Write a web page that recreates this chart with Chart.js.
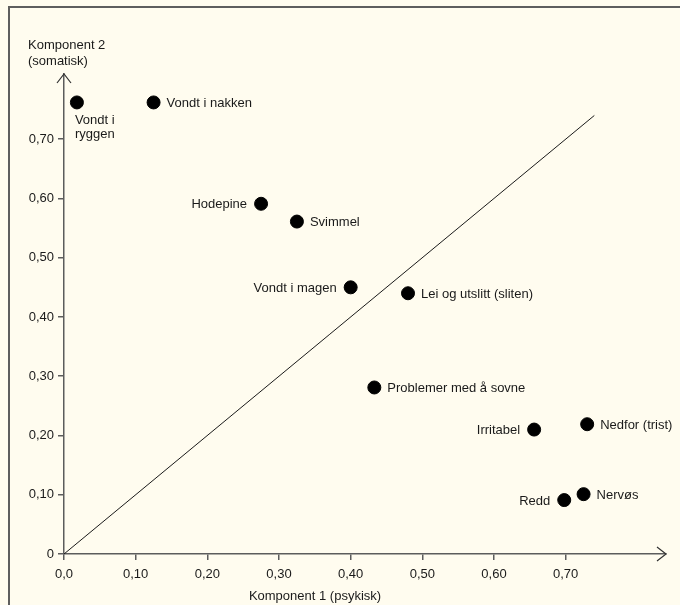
<!DOCTYPE html>
<html>
<head>
<meta charset="utf-8">
<script src="https://cdn.jsdelivr.net/npm/chart.js@4.4.1/dist/chart.umd.min.js"></script>
<style>
  html, body { margin: 0; padding: 0; background: #fffcef; }
  #wrap { width: 680px; height: 605px; }
</style>
</head>
<body>
<div id="wrap"><canvas id="pcaChart" width="680" height="605"></canvas></div>
<script>
// Faktorladninger per symptom
const itemLabels = ['Vondt i ryggen', 'Vondt i nakken', 'Hodepine', 'Svimmel', 'Vondt i magen',
    'Lei og utslitt (sliten)', 'Problemer med å sovne', 'Irritabel', 'Nedfor (trist)', 'Redd', 'Nervøs'];
const komponent1 = [0.018, 0.125, 0.275, 0.325, 0.400, 0.480, 0.433, 0.656, 0.730, 0.698, 0.725];
const komponent2 = [0.762, 0.762, 0.591, 0.561, 0.450, 0.440, 0.281, 0.210, 0.219, 0.091, 0.101];
const labelSide = ['below', 'right', 'left', 'right', 'left', 'right', 'right', 'left', 'right', 'left', 'right'];

const diagonal = [0, 0.74];
const xTickValues = [0, 0.1, 0.2, 0.3, 0.4, 0.5, 0.6, 0.7];
const xTickLabels = ['0,0', '0,10', '0,20', '0,30', '0,40', '0,50', '0,60', '0,70'];
const yTickValues = [0, 0.1, 0.2, 0.3, 0.4, 0.5, 0.6, 0.7];
const yTickLabels = ['0', '0,10', '0,20', '0,30', '0,40', '0,50', '0,60', '0,70'];

const FONT = '"Liberation Sans", Arial, sans-serif';
const axisColor = '#5c5c5c';
const textColor = '#1a1a1a';

const overlay = {
    id: 'overlay',
    beforeDraw(chart) {
        const ctx = chart.ctx;
        ctx.save();
        ctx.fillStyle = '#5e5e5e';
        ctx.fillRect(8, 6, 672, 2);
        ctx.fillRect(8, 6, 2, 599);
        ctx.restore();
    },
    afterDraw(chart) {
        const ctx = chart.ctx;
        const xs = chart.scales.x, ys = chart.scales.y;
        const x0 = xs.getPixelForValue(0), y0 = ys.getPixelForValue(0);
        const xEnd = chart.chartArea.right, yEnd = chart.chartArea.top;
        ctx.save();
        ctx.strokeStyle = '#333';
        ctx.lineWidth = 1.2;
        ctx.beginPath();
        ctx.moveTo(xEnd - 9, y0 - 7); ctx.lineTo(xEnd, y0); ctx.lineTo(xEnd - 9, y0 + 7);
        ctx.moveTo(x0 - 7, yEnd + 9); ctx.lineTo(x0, yEnd); ctx.lineTo(x0 + 7, yEnd + 9);
        ctx.stroke();

        ctx.font = '13px ' + FONT;
        ctx.fillStyle = textColor;
        ctx.textBaseline = 'middle';
        // axis titles
        ctx.textAlign = 'center';
        ctx.fillText('Komponent 1 (psykisk)', 315, 596);
        ctx.textAlign = 'left';
        ctx.fillText('Komponent 2', 28, 45);
        ctx.fillText('(somatisk)', 28, 61);

        // point labels
        const meta = chart.getDatasetMeta(0);
        meta.data.forEach((pt, i) => {
            const side = labelSide[i];
            if (side === 'right') {
                ctx.textAlign = 'left';
                ctx.fillText(itemLabels[i], pt.x + 13, pt.y + 1);
            } else if (side === 'left') {
                ctx.textAlign = 'right';
                ctx.fillText(itemLabels[i], pt.x - 14, pt.y + 1);
            } else {
                ctx.textAlign = 'left';
                const words = itemLabels[i].split(' ');
                ctx.fillText(words.slice(0, 2).join(' '), pt.x - 2, pt.y + 18);
                ctx.fillText(words.slice(2).join(' '), pt.x - 2, pt.y + 32);
            }
        });
        ctx.restore();
    }
};

const ctx = document.getElementById('pcaChart').getContext('2d');
new Chart(ctx, {
    type: 'scatter',
    data: {
        datasets: [{
            label: 'Symptomer',
            data: komponent1.map((x, i) => ({ x: x, y: komponent2[i] })),
            backgroundColor: '#000',
            borderColor: '#000',
            pointRadius: 6.5,
            pointHoverRadius: 6.5
        }, {
            type: 'line',
            label: 'Diagonal',
            data: diagonal.map(v => ({ x: v, y: v })),
            borderColor: '#1a1a1a',
            borderWidth: 1,
            pointRadius: 0,
            fill: false
        }]
    },
    options: {
        responsive: false,
        animation: false,
        layout: { padding: { left: 0, top: 74, right: 14, bottom: 0 } },
        plugins: {
            legend: { display: false },
            tooltip: { enabled: false }
        },
        scales: {
            x: {
                type: 'linear',
                min: 0,
                max: 0.84,
                afterBuildTicks: scale => { scale.ticks = xTickValues.map(v => ({ value: v })); },
                afterFit: scale => { scale.height = 51; },
                ticks: {
                    callback: (value, index) => xTickLabels[index],
                    color: textColor,
                    font: { family: FONT, size: 13 },
                    padding: 7,
                    maxRotation: 0
                },
                grid: { drawOnChartArea: false, drawTicks: true, tickLength: 6, color: axisColor, lineWidth: 1.5 },
                border: { display: true, color: axisColor, width: 1.5 }
            },
            y: {
                type: 'linear',
                min: 0,
                max: 0.81,
                afterBuildTicks: scale => { scale.ticks = yTickValues.map(v => ({ value: v })); },
                afterFit: scale => { scale.width = 64; },
                ticks: {
                    callback: (value, index) => yTickLabels[index],
                    color: textColor,
                    font: { family: FONT, size: 13 },
                    padding: 4
                },
                grid: { drawOnChartArea: false, drawTicks: true, tickLength: 6, color: axisColor, lineWidth: 1.5 },
                border: { display: true, color: axisColor, width: 1.5 }
            }
        }
    },
    plugins: [overlay]
});
</script>
</body>
</html>
